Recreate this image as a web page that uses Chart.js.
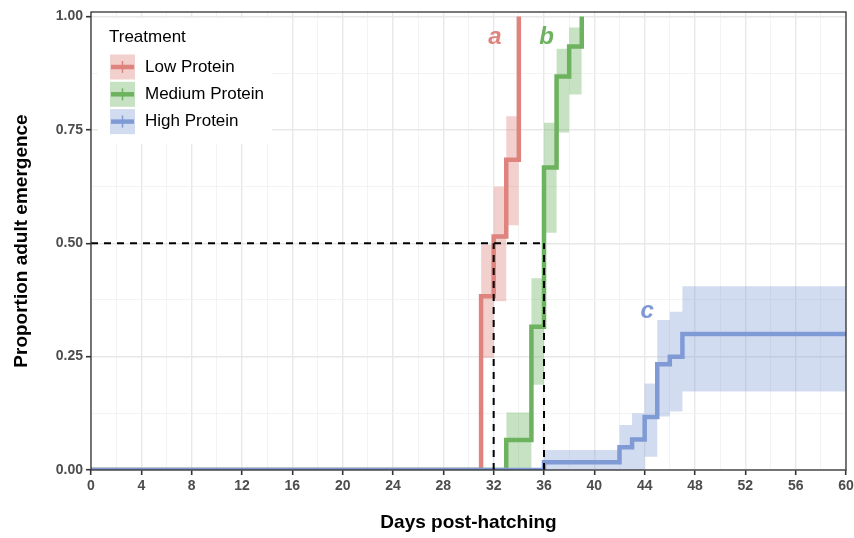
<!DOCTYPE html>
<html>
<head>
<meta charset="utf-8">
<script src="https://cdn.jsdelivr.net/npm/chart.js@4"></script>
<style>
  body { margin: 0; background: #fff; }
  canvas { display: block; }
</style>
</head>
<body>
<canvas id="chart" width="854" height="538"></canvas>
<script>
// ===============================
// Data
// ===============================

const treatments = ["Low Protein", "Medium Protein", "High Protein"];
const lineColors = ["#DE837E", "#6DB35F", "#7F9AD5"];
const bandColors = ["rgba(222,131,126,0.38)", "rgba(109,179,95,0.38)", "rgba(127,154,213,0.35)"];

// Kaplan-Meier style step curves (day, cumulative proportion emerged)
const lowDays = [0, 31, 32, 33, 34];
const lowProp = [0, 0.383, 0.515, 0.684, 1.0];
const medDays = [0, 33, 35, 36, 37, 38, 39];
const medProp = [0, 0.066, 0.316, 0.667, 0.868, 0.934, 1.0];
const highDays = [0, 36, 42, 43, 44, 45, 46, 47, 60];
const highProp = [0, 0.017, 0.05, 0.067, 0.117, 0.233, 0.25, 0.30, 0.30];

// confidence bands (start day of each interval, last entry closes the band)
const lowBandDays = [31, 32, 33, 34];
const lowLower = [0.247, 0.372, 0.54, 0.54];
const lowUpper = [0.497, 0.625, 0.78, 0.78];
const medBandDays = [33, 35, 36, 37, 38, 39];
const medLower = [0, 0.188, 0.523, 0.744, 0.828, 0.828];
const medUpper = [0.127, 0.423, 0.766, 0.929, 0.976, 0.976];
const highBandDays = [36, 42, 43, 44, 45, 46, 47, 60];
const highLower = [0, 0, 0, 0.029, 0.118, 0.129, 0.173, 0.173];
const highUpper = [0.044, 0.099, 0.125, 0.191, 0.331, 0.349, 0.405, 0.405];

// median emergence guides
const medianDays = [32, 36];
const medianLevel = 0.5;

// significance letters
const letters = ["a", "b", "c"];
const letterDays = [32.1, 36.2, 44.2];
const letterProps = [0.955, 0.955, 0.35];

// axis ticks
const xTickLabels = [0, 4, 8, 12, 16, 20, 24, 28, 32, 36, 40, 44, 48, 52, 56, 60];
const yTickLabels = [0, 0.25, 0.5, 0.75, 1.0];

// ===============================
// Build datasets
// ===============================

function toPoints(xs, ys) {
  return xs.map((x, i) => ({ x: x, y: ys[i] }));
}

const curves = [
  { days: lowDays, prop: lowProp, bandDays: lowBandDays, lower: lowLower, upper: lowUpper },
  { days: medDays, prop: medProp, bandDays: medBandDays, lower: medLower, upper: medUpper },
  { days: highDays, prop: highProp, bandDays: highBandDays, lower: highLower, upper: highUpper }
];

const datasets = [];

curves.forEach((c, i) => {
  datasets.push({
    label: treatments[i] + " lower",
    data: toPoints(c.bandDays, c.lower),
    stepped: true,
    borderWidth: 0,
    pointRadius: 0,
    fill: false,
    order: 20
  });
  datasets.push({
    label: treatments[i] + " upper",
    data: toPoints(c.bandDays, c.upper),
    stepped: true,
    borderWidth: 0,
    pointRadius: 0,
    backgroundColor: bandColors[i],
    fill: "-1",
    order: 20
  });
});

curves.forEach((c, i) => {
  datasets.push({
    label: treatments[i],
    data: toPoints(c.days, c.prop),
    stepped: true,
    borderColor: lineColors[i],
    borderWidth: 4.5,
    pointRadius: 0,
    fill: false,
    order: 5 - i
  });
});

// dashed median lines
const lastMedian = medianDays[medianDays.length - 1];
const dashStyle = { borderColor: "#000", borderWidth: 2, borderDash: [7, 6], pointRadius: 0, fill: false, order: 0 };
datasets.push(Object.assign({
  label: "median h",
  data: [{ x: 0, y: medianLevel }, { x: lastMedian, y: medianLevel }]
}, dashStyle));
medianDays.forEach(d => {
  datasets.push(Object.assign({
    label: "median v",
    data: [{ x: d, y: 0 }, { x: d, y: medianLevel }]
  }, dashStyle));
});

// ===============================
// Plugins
// ===============================

const FONT = '"Liberation Sans", Arial, sans-serif';

const panelPlugin = {
  id: "panel",
  afterDatasetsDraw(chart) {
    const { ctx, chartArea: a, scales } = chart;
    ctx.save();
    // letters
    ctx.font = "italic bold 24px " + FONT;
    ctx.textAlign = "center";
    ctx.textBaseline = "middle";
    letters.forEach((l, i) => {
      ctx.fillStyle = lineColors[i];
      ctx.fillText(l, scales.x.getPixelForValue(letterDays[i]), scales.y.getPixelForValue(letterProps[i]));
    });
    // panel border
    ctx.strokeStyle = "#333";
    ctx.lineWidth = 1.3;
    ctx.strokeRect(a.left, a.top, a.right - a.left, a.bottom - a.top);
    ctx.restore();
  },
  afterDraw(chart) {
    const ctx = chart.ctx;
    ctx.save();
    ctx.fillStyle = "#fff";
    ctx.fillRect(98, 18, 174, 126);
    ctx.fillStyle = "#000";
    ctx.font = "17px " + FONT;
    ctx.textBaseline = "middle";
    ctx.textAlign = "left";
    ctx.fillText("Treatment", 109, 37);
    treatments.forEach((name, i) => {
      const y = 67 + i * 27.3;
      ctx.fillStyle = bandColors[i];
      ctx.fillRect(110, y - 12.5, 25, 25);
      ctx.strokeStyle = lineColors[i];
      ctx.lineWidth = 4.5;
      ctx.beginPath();
      ctx.moveTo(111, y);
      ctx.lineTo(134, y);
      ctx.stroke();
      ctx.lineWidth = 1.5;
      ctx.beginPath();
      ctx.moveTo(122.5, y - 6);
      ctx.lineTo(122.5, y + 6);
      ctx.stroke();
      ctx.fillStyle = "#000";
      ctx.fillText(name, 145, y);
    });
    ctx.restore();
  }
};

// ===============================
// Chart
// ===============================

function isMajor(v, step) {
  return Math.abs(v / step - Math.round(v / step)) < 1e-6;
}

new Chart(document.getElementById("chart"), {
  type: "line",
  data: { datasets: datasets },
  plugins: [panelPlugin],
  options: {
    responsive: false,
    animation: false,
    devicePixelRatio: 1,
    layout: { padding: { top: 12, right: 8, left: 0, bottom: 0 } },
    plugins: {
      legend: { display: false },
      tooltip: { enabled: false },
      filler: { propagate: false }
    },
    scales: {
      x: {
        type: "linear",
        min: 0,
        max: 60,
        afterBuildTicks: scale => {
          const ticks = [];
          for (let v = 0; v <= 60; v += 2) ticks.push({ value: v });
          scale.ticks = ticks;
        },
        afterFit: scale => {
          scale.height = 68;
          scale.paddingLeft = 0;
          scale.paddingRight = 0;
        },
        border: { display: false },
        grid: {
          color: c => isMajor(c.tick.value, 4) ? "#E8E8E8" : "#F0F0F0",
          lineWidth: c => isMajor(c.tick.value, 4) ? 1.4 : 0.8,
          tickColor: c => isMajor(c.tick.value, 4) ? "#333" : "rgba(0,0,0,0)",
          tickLength: 5,
          tickWidth: 1.6
        },
        ticks: {
          autoSkip: false,
          maxRotation: 0,
          padding: 3,
          color: "#4D4D4D",
          font: { family: FONT, size: 14, weight: "bold" },
          callback: v => xTickLabels.includes(v) ? String(v) : ""
        },
        title: {
          display: true,
          text: "Days post-hatching",
          color: "#000",
          font: { family: FONT, size: 19, weight: "bold" },
          padding: { top: 0, bottom: 4 }
        }
      },
      y: {
        type: "linear",
        min: 0,
        max: 1.01,
        afterBuildTicks: scale => {
          const ticks = [];
          for (let v = 0; v <= 1.0001; v += 0.125) ticks.push({ value: v });
          scale.ticks = ticks;
        },
        afterFit: scale => {
          scale.width = 91;
          scale.paddingTop = 0;
          scale.paddingBottom = 0;
        },
        border: { display: false },
        grid: {
          color: c => isMajor(c.tick.value, 0.25) ? "#E8E8E8" : "#F0F0F0",
          lineWidth: c => isMajor(c.tick.value, 0.25) ? 1.4 : 0.8,
          tickColor: c => isMajor(c.tick.value, 0.25) ? "#333" : "rgba(0,0,0,0)",
          tickLength: 5,
          tickWidth: 1.6
        },
        ticks: {
          autoSkip: false,
          padding: 3,
          color: "#4D4D4D",
          font: { family: FONT, size: 14, weight: "bold" },
          callback: v => yTickLabels.some(t => Math.abs(t - v) < 1e-6) ? v.toFixed(2) : ""
        },
        title: {
          display: true,
          text: "Proportion adult emergence",
          color: "#000",
          font: { family: FONT, size: 19, weight: "bold" },
          padding: { top: 10, bottom: 0 }
        }
      }
    }
  }
});
</script>
</body>
</html>
